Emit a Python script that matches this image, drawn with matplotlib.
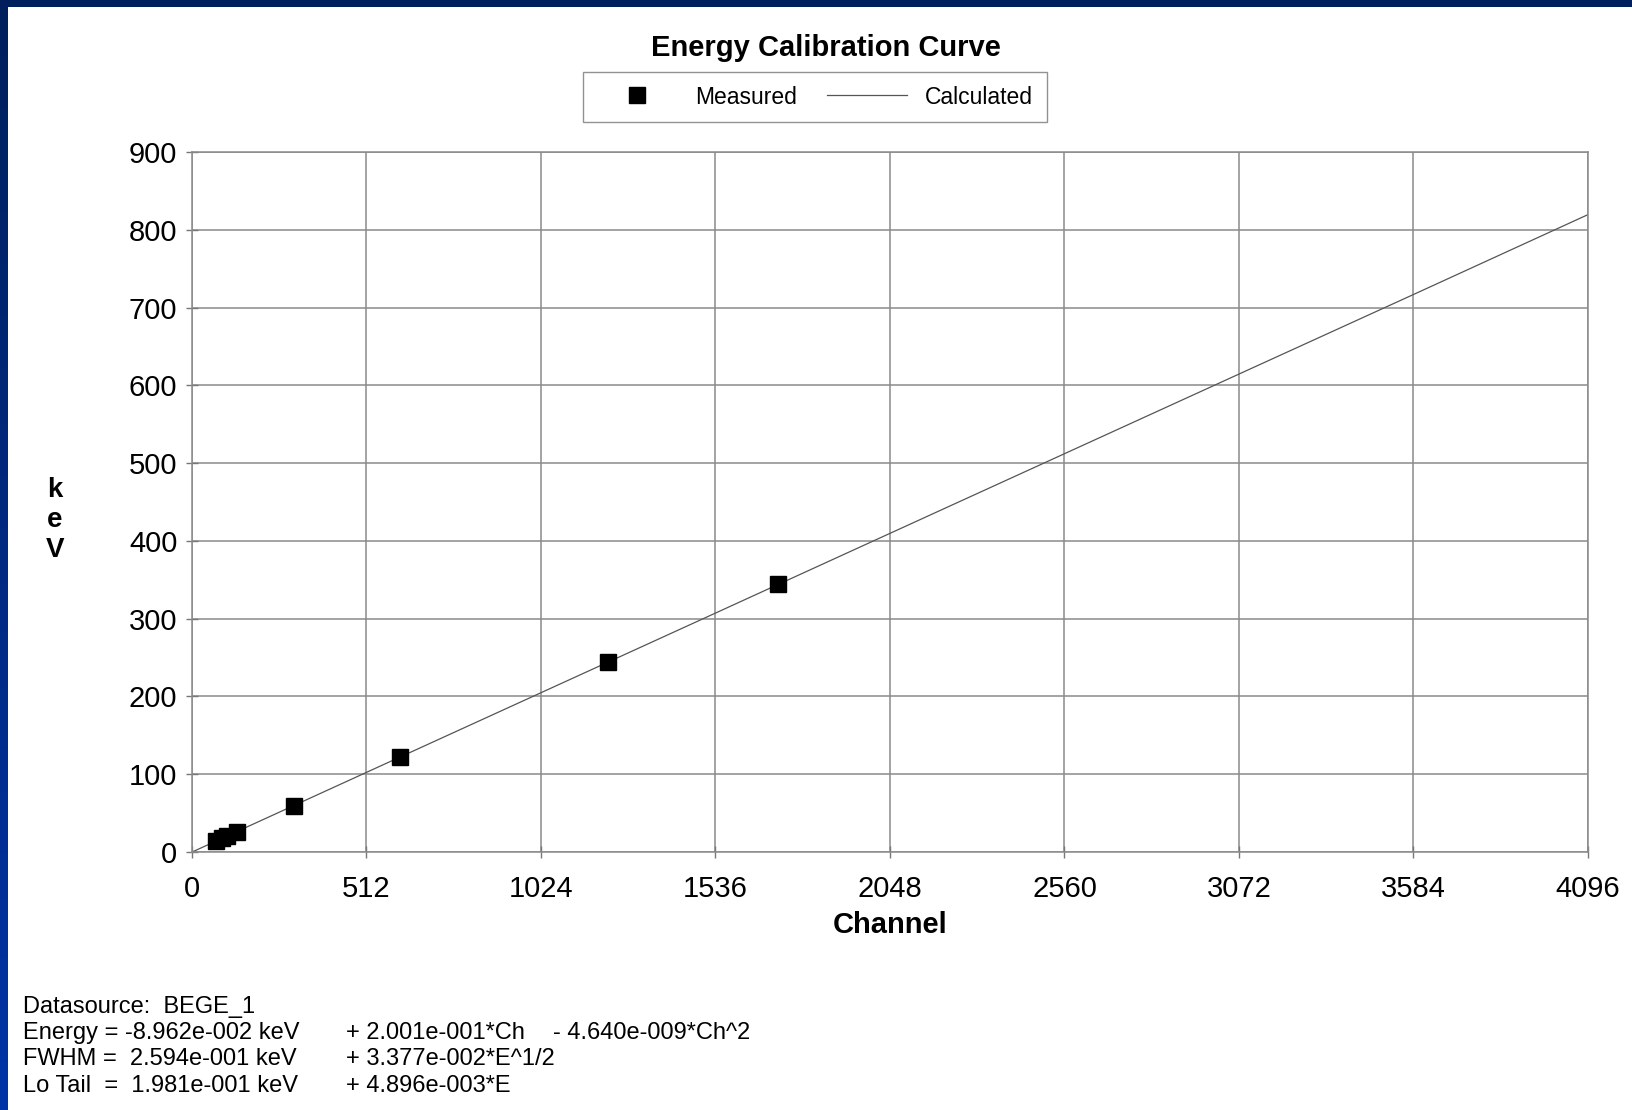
import matplotlib
matplotlib.use("Agg")
import matplotlib.pyplot as plt
import numpy as np

# measured calibration peaks (channel, keV)
meas_ch = [69, 89, 104, 132, 298, 609, 1222, 1720]
meas_kev = [13.9, 17.7, 20.8, 26.3, 59.5, 121.8, 244.7, 344.3]

# calculated curve
calc_ch = [0, 512, 1024, 1536, 2048, 2560, 3072, 3584, 4096]
calc_kev = [-0.09, 102.4, 204.8, 307.2, 409.7, 512.1, 614.5, 716.8, 819.5]

xticks = [0, 512, 1024, 1536, 2048, 2560, 3072, 3584, 4096]
yticks = [0, 100, 200, 300, 400, 500, 600, 700, 800, 900]

footer = [
    ("Datasource:  BEGE_1", "", ""),
    ("Energy = -8.962e-002 keV", "+ 2.001e-001*Ch", "- 4.640e-009*Ch^2"),
    ("FWHM =  2.594e-001 keV", "+ 3.377e-002*E^1/2", ""),
    ("Lo Tail  =  1.981e-001 keV", "+ 4.896e-003*E", ""),
]

plt.rcParams['font.family'] = ['Liberation Sans', 'DejaVu Sans']

W, H = 1633, 1110
fig = plt.figure(figsize=(W / 100, H / 100), dpi=100)
fig.patch.set_facecolor('white')

# blue frame on left and top
grad = np.linspace(0, 1, 256).reshape(-1, 1)
cmap = matplotlib.colors.LinearSegmentedColormap.from_list('b', ['#001f5c', '#0034a6'])
axl = fig.add_axes([0, 0, 8 / W, 1])
axl.imshow(grad, aspect='auto', cmap=cmap, extent=[0, 1, 0, 1])
axl.axis('off')
axt = fig.add_axes([0, 1 - 7 / H, 1, 7 / H])
axt.set_facecolor('#001f5c')
axt.set_xticks([]); axt.set_yticks([])
for s in axt.spines.values():
    s.set_visible(False)

ax = fig.add_axes([192 / W, 1 - 852 / H, (1588 - 192) / W, (852 - 152) / H])
ax.plot(calc_ch, calc_kev, color='#555555', lw=0.9, label='Calculated', zorder=2)
ax.plot(meas_ch, meas_kev, ls='none', marker='s', ms=12, color='black',
        label='Measured', zorder=3)

ax.set_xlim(0, 4096)
ax.set_ylim(0, 900)
ax.set_xticks(xticks)
ax.set_yticks(yticks)
ax.tick_params(labelsize=21, direction='inout', length=9, width=1, color='#777777')
ax.tick_params(axis='x', pad=12)
ax.tick_params(axis='y', pad=6)
ax.grid(True, color='#8a8a8a', lw=1.1)
for s in ax.spines.values():
    s.set_color('#8a8a8a')
    s.set_linewidth(1.1)

ax.set_xlabel('Channel', fontsize=21, fontweight='bold', labelpad=6)
fig.text(55 / W, 1 - 520 / H, 'k\ne\nV', fontsize=20, fontweight='bold',
         ha='center', va='center', linespacing=1.2)

fig.text(826 / W, 1 - 48 / H, 'Energy Calibration Curve', fontsize=21,
         fontweight='bold', ha='center', va='center')

h, l = ax.get_legend_handles_labels()
leg = fig.legend([h[1], h[0]], [l[1], l[0]], loc='center',
                 bbox_to_anchor=(815 / W, 1 - 97 / H), ncol=2, fontsize=16.5,
                 frameon=True, fancybox=False, edgecolor='#777777',
                 handlelength=3.5, columnspacing=1.3, borderpad=0.6)
leg.get_frame().set_linewidth(1.0)

cols = [23, 346, 553]
rows = [1007, 1033, 1059, 1086]
for (a, b, c), y in zip(footer, rows):
    for txt, x in zip((a, b, c), cols):
        if txt:
            fig.text(x / W, 1 - y / H, txt, fontsize=17, ha='left', va='center')

fig.savefig('out.png', dpi=100)
